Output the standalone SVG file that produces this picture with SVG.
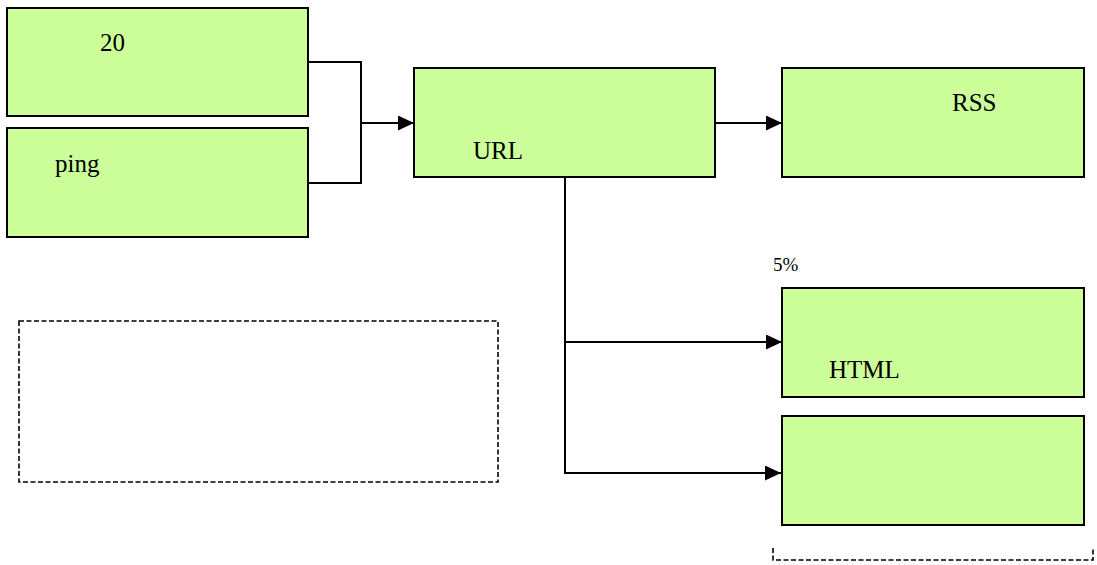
<svg xmlns="http://www.w3.org/2000/svg" width="1097" height="565" viewBox="0 0 1097 565">
<style>
.box{fill:#ccff99;stroke:#000;stroke-width:2}
.dash{fill:none;stroke:#000;stroke-width:1.6;stroke-dasharray:5,2.5}
.ln{fill:none;stroke:#000;stroke-width:2}
text{font-family:"Liberation Serif","Times New Roman",serif;font-size:25px;fill:#000}
.sm{font-size:19px}
</style>
<defs>
<marker id="ah" markerWidth="16" markerHeight="15" refX="16" refY="7.5" orient="auto" markerUnits="userSpaceOnUse">
<path d="M0,0 L16,7.5 L0,15 Z" fill="#000"/>
</marker>
</defs>
<rect width="1097" height="565" fill="#fff"/>
<g id="connectors">
<path class="ln" d="M308,62 H361 V183 H308"/>
<path class="ln" d="M361,123 H414" marker-end="url(#ah)"/>
<path class="ln" d="M715,123 H782" marker-end="url(#ah)"/>
<path class="ln" d="M565,177 V473 H781" marker-end="url(#ah)"/>
<path class="ln" d="M565,342 H782" marker-end="url(#ah)"/>
</g>
<g id="node-20">
<rect class="box" x="7" y="8" width="301" height="108"/>
<text x="100" y="51">20</text>
</g>
<g id="node-ping">
<rect class="box" x="7" y="128" width="301" height="109"/>
<text x="55" y="172">ping</text>
</g>
<g id="node-url">
<rect class="box" x="414" y="68" width="301" height="109"/>
<text x="473" y="159">URL</text>
</g>
<g id="node-rss">
<rect class="box" x="782" y="68" width="302" height="109"/>
<text x="952" y="111">RSS</text>
</g>
<g id="label-5pct">
<text class="sm" x="773" y="271">5%</text>
</g>
<g id="node-html">
<rect class="box" x="782" y="288" width="302" height="109"/>
<text x="829" y="378">HTML</text>
</g>
<g id="node-empty">
<rect class="box" x="782" y="416" width="302" height="109"/>
</g>
<g id="dashed-box">
<rect class="dash" x="19" y="321" width="479" height="161"/>
</g>
<g id="bracket">
<path class="dash" d="M773,548 V560 H1093 V548"/>
</g>
</svg>
